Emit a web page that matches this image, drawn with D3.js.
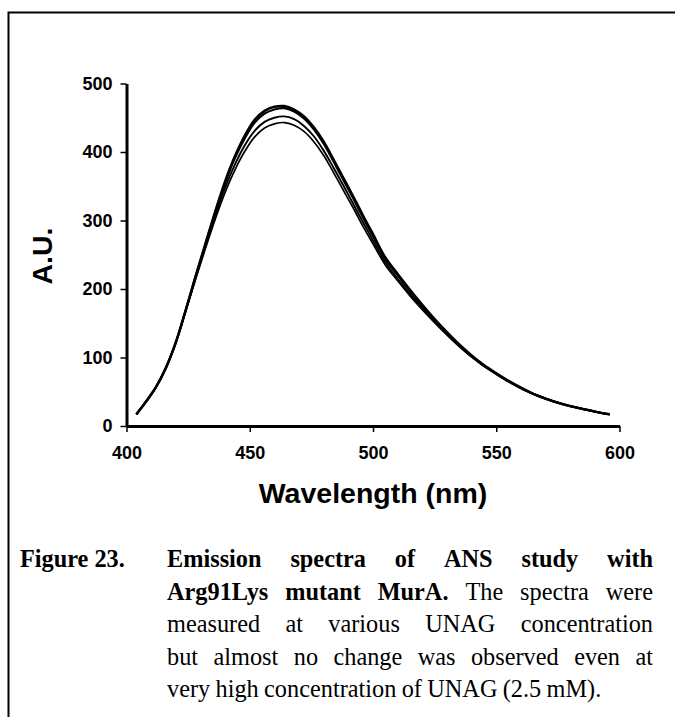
<!DOCTYPE html>
<html>
<head>
<meta charset="utf-8">
<script src="https://cdn.jsdelivr.net/npm/d3@7"></script>
<style>
  body { margin: 0; background: #fff; }
  svg { display: block; }
</style>
</head>
<body>
<svg width="675" height="717"></svg>
<script>
// emission wavelength (nm)
var wavelength = [404, 408, 412, 416, 420, 424, 428, 432, 436, 440, 444, 448, 452, 456, 460, 464, 468, 472, 476, 480,
    484, 488, 492, 496, 500, 505, 510, 515, 520, 525, 530, 535, 540, 545, 550, 555, 560, 565, 570, 575, 580, 585, 590, 596];

// fluorescence (A.U.), one spectrum per UNAG concentration
var spectrum1 = [17, 36, 57, 85, 122, 169, 218, 266, 313, 357, 394, 424, 447, 460, 466, 467, 462, 452, 436, 415,
    389, 362, 335, 307, 280, 246, 222, 199, 177, 156, 137, 119, 103, 89, 77, 66, 56, 47, 40, 34, 29, 25, 21, 17];
var spectrum2 = [17, 36, 57, 85, 122, 169, 218, 265, 312, 355, 391, 420, 443, 456, 462, 464, 459, 449, 433, 412,
    386, 359, 332, 304, 277, 244, 220, 197, 175, 155, 136, 118, 102, 88, 76, 65, 56, 47, 40, 34, 29, 25, 21, 17];
var spectrum3 = [17, 36, 57, 85, 122, 168, 216, 262, 307, 348, 382, 410, 431, 444, 450, 452, 448, 438, 423, 402,
    377, 351, 324, 297, 271, 239, 215, 193, 172, 152, 134, 117, 101, 88, 76, 65, 55, 47, 40, 34, 29, 25, 21, 17];
var spectrum4 = [17, 36, 57, 85, 121, 167, 214, 259, 302, 341, 374, 401, 422, 435, 441, 443, 439, 430, 415, 395,
    370, 344, 318, 291, 266, 235, 212, 190, 170, 151, 133, 116, 101, 87, 76, 65, 55, 47, 40, 34, 29, 25, 21, 17];

var xTicks = [400, 450, 500, 550, 600];
var yTicks = [0, 100, 200, 300, 400, 500];

var svg = d3.select("svg"),
    width = +svg.attr("width"),
    height = +svg.attr("height");

// frame round the figure (runs off the right and bottom edges)
svg.append("path")
    .attr("d", "M8.5," + height + "V12.5H" + width)
    .attr("fill", "none")
    .attr("stroke", "#000")
    .attr("stroke-width", 2);

var x = d3.scaleLinear().domain([400, 600]).range([126.5, 619.5]);
var y = d3.scaleLinear().domain([0, 500]).range([426, 83.5]);

var tickFont = "Arial, 'Liberation Sans', sans-serif";

var xAxis = svg.append("g")
    .attr("transform", "translate(0," + y(0) + ")")
    .call(d3.axisBottom(x).tickValues(xTicks).tickSize(6).tickPadding(14).tickSizeOuter(0));
var yAxis = svg.append("g")
    .attr("transform", "translate(" + x(400) + ",0)")
    .call(d3.axisLeft(y).tickValues(yTicks).tickSize(6).tickPadding(8).tickSizeOuter(0));

[xAxis, yAxis].forEach(function(ax) {
    ax.select(".domain").attr("stroke-width", 3);
    ax.selectAll(".tick line").attr("stroke-width", 1.5);
    ax.selectAll(".tick text")
        .attr("font-family", tickFont)
        .attr("font-weight", "bold")
        .attr("font-size", 18)
        .attr("fill", "#000");
});

var series = [spectrum4, spectrum3, spectrum2, spectrum1];
var widths = [1.7, 1.9, 2.2, 2.5];

var line = d3.line()
    .x(function(d, i) { return x(wavelength[i]); })
    .y(function(d) { return y(d); })
    .curve(d3.curveCatmullRom);

svg.selectAll(".spectrum")
    .data(series)
    .enter().append("path")
    .attr("class", "spectrum")
    .attr("fill", "none")
    .attr("stroke", "#000")
    .attr("stroke-width", function(d, i) { return widths[i]; })
    .attr("d", line);

// axis titles
svg.append("text")
    .attr("transform", "translate(52,256) rotate(-90)")
    .attr("text-anchor", "middle")
    .attr("font-family", tickFont)
    .attr("font-weight", "bold")
    .attr("font-size", 28.5)
    .text("A.U.");

svg.append("text")
    .attr("x", 373)
    .attr("y", 503)
    .attr("text-anchor", "middle")
    .attr("font-family", tickFont)
    .attr("font-weight", "bold")
    .attr("font-size", 28.5)
    .text("Wavelength (nm)");

// caption, justified like the source document
var capFont = "'Times New Roman', 'Liberation Serif', serif",
    capSize = 24.3,
    capLeft = 167,
    capRight = 653,
    capTop = 567,
    capStep = 32.5;

var captionLines = [
    [["Emission", 1], ["spectra", 1], ["of", 1], ["ANS", 1], ["study", 1], ["with", 1]],
    [["Arg91Lys", 1], ["mutant", 1], ["MurA.", 1], ["The", 0], ["spectra", 0], ["were", 0]],
    [["measured", 0], ["at", 0], ["various", 0], ["UNAG", 0], ["concentration", 0]],
    [["but", 0], ["almost", 0], ["no", 0], ["change", 0], ["was", 0], ["observed", 0], ["even", 0], ["at", 0]],
    [["very", 0], ["high", 0], ["concentration", 0], ["of", 0], ["UNAG", 0], ["(2.5", 0], ["mM).", 0]]
];

svg.append("text")
    .attr("x", 20)
    .attr("y", capTop)
    .attr("font-family", capFont)
    .attr("font-size", capSize)
    .attr("font-weight", "bold")
    .text("Figure 23.");

captionLines.forEach(function(words, li) {
    var g = svg.append("g");
    var nodes = words.map(function(w) {
        return g.append("text")
            .attr("y", capTop + li * capStep)
            .attr("font-family", capFont)
            .attr("font-size", capSize)
            .attr("font-weight", w[1] ? "bold" : "normal")
            .text(w[0]);
    });
    var lens = nodes.map(function(n) { return n.node().getComputedTextLength(); });
    var total = d3.sum(lens);
    var last = li === captionLines.length - 1;
    var gap = last ? capSize * 0.22 : (capRight - capLeft - total) / (words.length - 1);
    var pos = capLeft;
    nodes.forEach(function(n, i) {
        n.attr("x", pos);
        pos += lens[i] + gap;
    });
});
</script>
</body>
</html>
